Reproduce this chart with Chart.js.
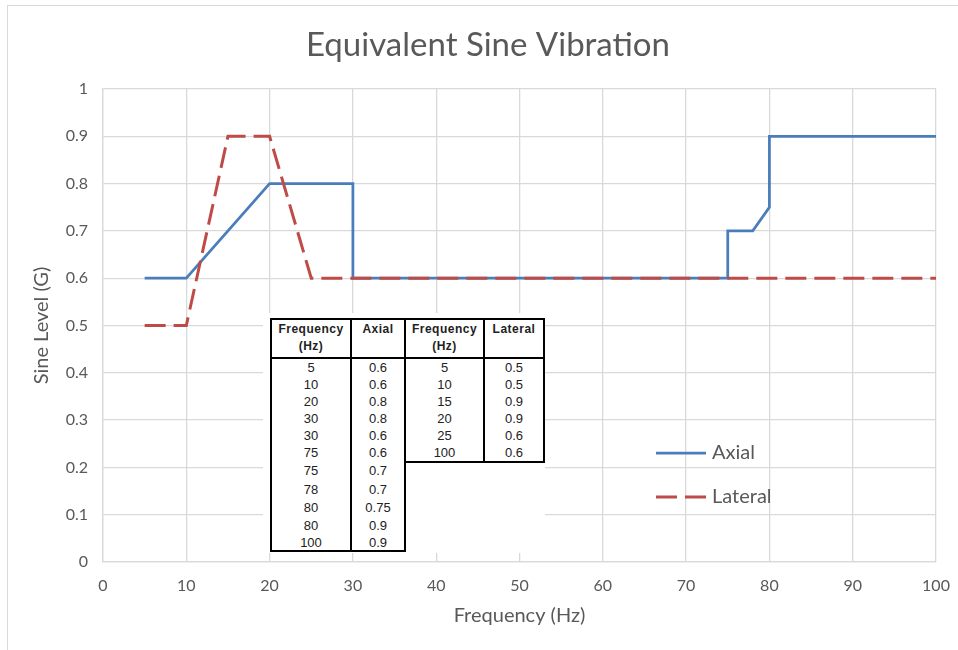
<!DOCTYPE html>
<html>
<head>
<meta charset="utf-8">
<script src="https://cdn.jsdelivr.net/npm/chart.js@4"></script>
<style>
html, body { margin: 0; padding: 0; background: #fff; }
#wrap { position: relative; width: 958px; height: 650px; overflow: hidden; }
#frame { position: absolute; left: 7px; top: 5px; width: 1000px; height: 660px; border: 1px solid #d9d9d9; }
#myChart { position: absolute; left: 0; top: 0; }
#tables { position: absolute; left: 263px; top: 313px; width: 282px; height: 240px; background: #fff; }
table { position: absolute; top: 5px; border-collapse: collapse; table-layout: fixed;
        font-family: "Liberation Sans", Arial, sans-serif; color: #222; }
th, td { border-left: 2px solid #000; border-right: 2px solid #000; text-align: center; padding: 0; }
th { font-size: 12px; font-weight: bold; letter-spacing: 0.5px; vertical-align: top; height: 36px;
     line-height: 17px; border-top: 2px solid #000; border-bottom: 2px solid #000; padding-top: 1px; }
td { font-size: 13px; height: 17px; line-height: 17px; }
tr:last-child td { border-bottom: 2px solid #000; }
</style>
</head>
<body>
<div id="wrap">
  <div id="frame"></div>
  <canvas id="myChart" width="958" height="650"></canvas>
  <div id="tables"></div>
</div>
<script>
const axialFreq = [5, 10, 20, 30, 30, 75, 75, 78, 80, 80, 100];
const axialLevel = [0.6, 0.6, 0.8, 0.8, 0.6, 0.6, 0.7, 0.7, 0.75, 0.9, 0.9];
const lateralFreq = [5, 10, 15, 20, 25, 100];
const lateralLevel = [0.5, 0.5, 0.9, 0.9, 0.6, 0.6];

const seriesNames = ['Axial', 'Lateral'];
const xTickValues = [0, 10, 20, 30, 40, 50, 60, 70, 80, 90, 100];
const yTickValues = [0, 0.1, 0.2, 0.3, 0.4, 0.5, 0.6, 0.7, 0.8, 0.9, 1];

const textColor = '#595959';
const gridColor = '#d9d9d9';
const fontFamily = 'Lato, "Open Sans", sans-serif';

function pairs(xs, ys) {
    return xs.map(function (x, i) { return { x: x, y: ys[i] }; });
}

// legend drawn inside the plot area, like the Excel original
const insideLegend = {
    id: 'insideLegend',
    afterDatasetsDraw(chart, args, opts) {
        const ctx = chart.ctx;
        ctx.save();
        chart.data.datasets.forEach(function (ds, i) {
            const y = opts.top + i * opts.rowGap;
            ctx.strokeStyle = ds.borderColor;
            ctx.lineWidth = ds.borderWidth;
            ctx.setLineDash(ds.borderDash || []);
            ctx.beginPath();
            ctx.moveTo(opts.left, y);
            ctx.lineTo(opts.left + opts.lineLength, y);
            ctx.stroke();
            ctx.setLineDash([]);
            ctx.fillStyle = textColor;
            ctx.font = opts.fontSize + 'px ' + fontFamily;
            ctx.textBaseline = 'middle';
            ctx.fillText(ds.label, opts.left + opts.lineLength + 6, y);
        });
        ctx.restore();
    }
};

const data = {
    datasets: [
        {
            label: seriesNames[0],
            data: pairs(axialFreq, axialLevel),
            borderColor: '#4a7ebb',
            backgroundColor: '#4a7ebb',
            borderWidth: 2.75,
            pointRadius: 0,
            tension: 0,
            order: 1
        },
        {
            label: seriesNames[1],
            data: pairs(lateralFreq, lateralLevel),
            borderColor: '#be4b48',
            backgroundColor: '#be4b48',
            borderWidth: 3,
            borderDash: [21, 8],
            pointRadius: 0,
            tension: 0,
            order: 0
        }
    ]
};

const config = {
    type: 'line',
    data: data,
    options: {
        responsive: false,
        animation: false,
        layout: { padding: { left: 40, right: 22, top: 0, bottom: 0 } },
        plugins: {
            legend: { display: false },
            tooltip: { enabled: false },
            title: {
                display: true,
                text: 'Equivalent Sine Vibration',
                color: textColor,
                font: { family: fontFamily, size: 33, weight: 'normal' },
                padding: { top: 25.2, bottom: 24.2 }
            },
            insideLegend: { left: 656, top: 453, rowGap: 44, lineLength: 50, fontSize: 20 }
        },
        scales: {
            x: {
                type: 'linear',
                min: 0,
                max: 100,
                afterBuildTicks: function (scale) {
                    scale.ticks = xTickValues.map(function (v) { return { value: v }; });
                },
                ticks: { color: textColor, padding: 14.4, font: { family: fontFamily, size: 16 } },
                grid: { color: gridColor, lineWidth: 1.3, drawTicks: false },
                border: { color: gridColor, width: 1.3 },
                title: {
                    display: true,
                    text: 'Frequency (Hz)',
                    color: textColor,
                    font: { family: fontFamily, size: 20 },
                    padding: { bottom: 22 }
                },
                afterFit: function (scale) {
                    scale.height = 88;
                    scale.paddingLeft = 0;
                    scale.paddingRight = 0;
                }
            },
            y: {
                min: 0,
                max: 1,
                afterBuildTicks: function (scale) {
                    scale.ticks = yTickValues.map(function (v) { return { value: v }; });
                },
                ticks: {
                    color: textColor,
                    padding: 15,
                    font: { family: fontFamily, size: 16 },
                    callback: function (v) { return String(Math.round(v * 10) / 10); }
                },
                grid: { color: gridColor, lineWidth: 1.3, drawTicks: false },
                border: { color: gridColor, width: 1.3 },
                title: {
                    display: true,
                    text: 'Sine Level (G)',
                    color: textColor,
                    font: { family: fontFamily, size: 20 },
                    padding: { top: -10 }
                },
                afterFit: function (scale) { scale.width = 63; }
            }
        }
    },
    plugins: [insideLegend]
};

const myChart = new Chart(document.getElementById('myChart'), config);

// the two data tables pasted over the plot
function buildTable(name, xs, ys, left, colWidths, rowHeights) {
    const t = document.createElement('table');
    t.style.left = left + 'px';
    t.style.width = (colWidths[0] + colWidths[1]) + 'px';
    let html = '<colgroup><col style="width:' + colWidths[0] + 'px"><col style="width:' + colWidths[1] + 'px"></colgroup>';
    html += '<tr><th>Frequency<br>(Hz)</th><th>' + name + '</th></tr>';
    xs.forEach(function (x, i) {
        const h = rowHeights[i] || 17;
        html += '<tr><td style="height:' + h + 'px;line-height:' + h + 'px">' + x +
                '</td><td style="height:' + h + 'px;line-height:' + h + 'px">' + ys[i] + '</td></tr>';
    });
    t.innerHTML = html;
    document.getElementById('tables').appendChild(t);
}

buildTable(seriesNames[0], axialFreq, axialLevel, 7, [80, 54], [17, 17, 17, 17, 17, 17, 19, 19, 18, 18, 15]);
buildTable(seriesNames[1], lateralFreq, lateralLevel, 141, [79, 60], [17, 17, 17, 17, 17, 17]);
</script>
</body>
</html>
